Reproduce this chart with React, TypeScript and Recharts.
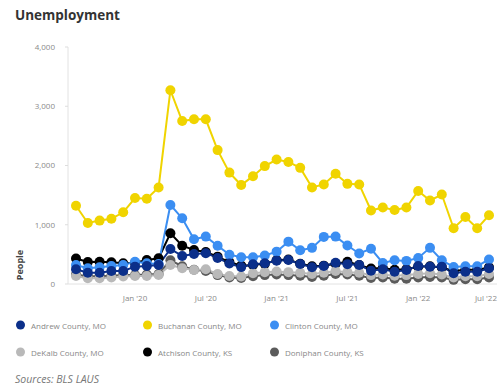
import React from "react";
import { LineChart, Line, XAxis, YAxis } from "recharts";

const months = [
  "Aug '19", "Sep '19", "Oct '19", "Nov '19", "Dec '19",
  "Jan '20", "Feb '20", "Mar '20", "Apr '20", "May '20", "Jun '20", "Jul '20", "Aug '20", "Sep '20", "Oct '20", "Nov '20", "Dec '20",
  "Jan '21", "Feb '21", "Mar '21", "Apr '21", "May '21", "Jun '21", "Jul '21", "Aug '21", "Sep '21", "Oct '21", "Nov '21", "Dec '21",
  "Jan '22", "Feb '22", "Mar '22", "Apr '22", "May '22", "Jun '22", "Jul '22",
];

const tickLabels = ["Jan '20", "Jul '20", "Jan '21", "Jul '21", "Jan '22", "Jul '22"];
const yTicks = [0, 1000, 2000, 3000, 4000];

const andrew = [248, 191, 191, 220, 220, 293, 304, 321, 591, 473, 507, 520, 440, 345, 285, 332, 349, 394, 405, 338, 282, 304, 360, 335, 321, 225, 248, 208, 236, 304, 293, 293, 180, 208, 208, 265];
const buchanan = [1320, 1030, 1070, 1100, 1210, 1450, 1440, 1630, 3270, 2750, 2780, 2780, 2260, 1880, 1670, 1820, 1990, 2100, 2060, 1960, 1630, 1680, 1860, 1690, 1680, 1240, 1290, 1250, 1290, 1570, 1410, 1510, 940, 1130, 940, 1160];
const clinton = [320, 265, 282, 304, 321, 377, 349, 338, 1334, 1109, 755, 800, 645, 495, 450, 450, 480, 546, 715, 570, 610, 795, 800, 650, 515, 595, 355, 400, 390, 440, 610, 400, 288, 300, 300, 415];
const dekalb = [135, 96, 96, 110, 126, 135, 135, 152, 321, 265, 236, 248, 169, 135, 126, 180, 200, 210, 200, 190, 170, 190, 220, 200, 190, 150, 160, 140, 150, 170, 180, 160, 110, 130, 130, 170];
const atchison = [430, 370, 377, 366, 349, 360, 405, 434, 856, 647, 574, 540, 462, 370, 310, 320, 340, 400, 415, 340, 300, 310, 340, 377, 320, 260, 270, 240, 250, 290, 300, 280, 220, 240, 240, 280];
const doniphan = [160, 130, 130, 140, 150, 150, 160, 170, 400, 300, 240, 220, 150, 110, 100, 130, 150, 160, 150, 140, 120, 140, 170, 160, 140, 100, 110, 90, 90, 110, 120, 110, 70, 80, 80, 110];

const seriesNames = [
  "Andrew County, MO",
  "Buchanan County, MO",
  "Clinton County, MO",
  "DeKalb County, MO",
  "Atchison County, KS",
  "Doniphan County, KS",
];
const seriesKeys = ["andrew", "buchanan", "clinton", "dekalb", "atchison", "doniphan"];
const seriesColors = ["#0b2f8a", "#f0d400", "#3b8ef2", "#b9b9b9", "#000000", "#5b5b5b"];

const seriesValues = [andrew, buchanan, clinton, dekalb, atchison, doniphan];

const data = months.map((m, i) => {
  const row: Record<string, any> = { month: m };
  seriesKeys.forEach((k, s) => {
    row[k] = seriesValues[s][i];
  });
  return row;
});

const FONT = "'Open Sans', 'DejaVu Sans', sans-serif";

const XTick = (props: any) => {
  const { x, y, payload } = props;
  if (!tickLabels.includes(payload.value)) return null;
  const nearEdge = x > 480;
  return (
    <text
      x={nearEdge ? 497 : x}
      y={y + 9}
      textAnchor={nearEdge ? "end" : "middle"}
      fontSize={8}
      fill="#8a8a8a"
      fontFamily={FONT}
    >
      {payload.value}
    </text>
  );
};

const drawOrder = [5, 4, 3, 2, 1, 0];

export default function App() {
  return (
    <div style={{ position: "absolute", left: 0, top: 0, width: 499, height: 389, background: "#fff", overflow: "hidden" }}>
      <div style={{ position: "absolute", left: 15, top: 6, fontFamily: FONT, fontWeight: 700, fontSize: 13.5, color: "#333" }}>
        Unemployment
      </div>
      <div
        style={{
          position: "absolute",
          left: 19,
          top: 265,
          transform: "translate(-50%, -50%) rotate(-90deg)",
          fontFamily: FONT,
          fontWeight: 700,
          fontSize: 9,
          color: "#444",
          whiteSpace: "nowrap",
        }}
      >
        People
      </div>
      <div style={{ position: "absolute", left: 0, top: 0 }}>
        <LineChart width={499} height={310} data={data} margin={{ top: 47, right: 2, bottom: 6, left: 0 }}>
          <XAxis
            dataKey="month"
            interval={0}
            tick={<XTick />}
            tickLine={false}
            axisLine={{ stroke: "#e2e2e2" }}
            padding={{ left: 8, right: 8 }}
            height={20}
          />
          <YAxis
            width={68}
            domain={[0, 4000]}
            ticks={yTicks}
            tickFormatter={(v: number) => v.toLocaleString("en-US")}
            tick={{ fontSize: 8, fill: "#8a8a8a", fontFamily: FONT }}
            tickSize={3}
            tickMargin={10}
            tickLine={{ stroke: "#ddd" }}
            axisLine={{ stroke: "#e2e2e2" }}
          />
          {drawOrder.map((s) => (
            <Line
              key={seriesKeys[s]}
              type="linear"
              dataKey={seriesKeys[s]}
              name={seriesNames[s]}
              stroke={seriesColors[s]}
              strokeWidth={2}
              dot={{ r: 5, fill: seriesColors[s], stroke: seriesColors[s], strokeWidth: 0 }}
              activeDot={false}
              isAnimationActive={false}
            />
          ))}
        </LineChart>
      </div>
      {seriesNames.map((name, i) => {
        const col = i % 3;
        const row = Math.floor(i / 3);
        const left = 15 + col * 127;
        const top = 325 + row * 27;
        return (
          <div key={name} style={{ position: "absolute", left, top: top - 6, height: 12, display: "flex", alignItems: "center" }}>
            <svg width={12} height={12} style={{ display: "block" }}>
              <circle cx={5.5} cy={6} r={4.5} fill={seriesColors[i]} />
            </svg>
            <span style={{ marginLeft: 4, fontFamily: FONT, fontSize: 8, color: "#888", whiteSpace: "nowrap" }}>{name}</span>
          </div>
        );
      })}
      <div style={{ position: "absolute", left: 15, top: 372, fontFamily: FONT, fontStyle: "italic", fontSize: 10.5, color: "#777" }}>
        Sources: BLS LAUS
      </div>
    </div>
  );
}
